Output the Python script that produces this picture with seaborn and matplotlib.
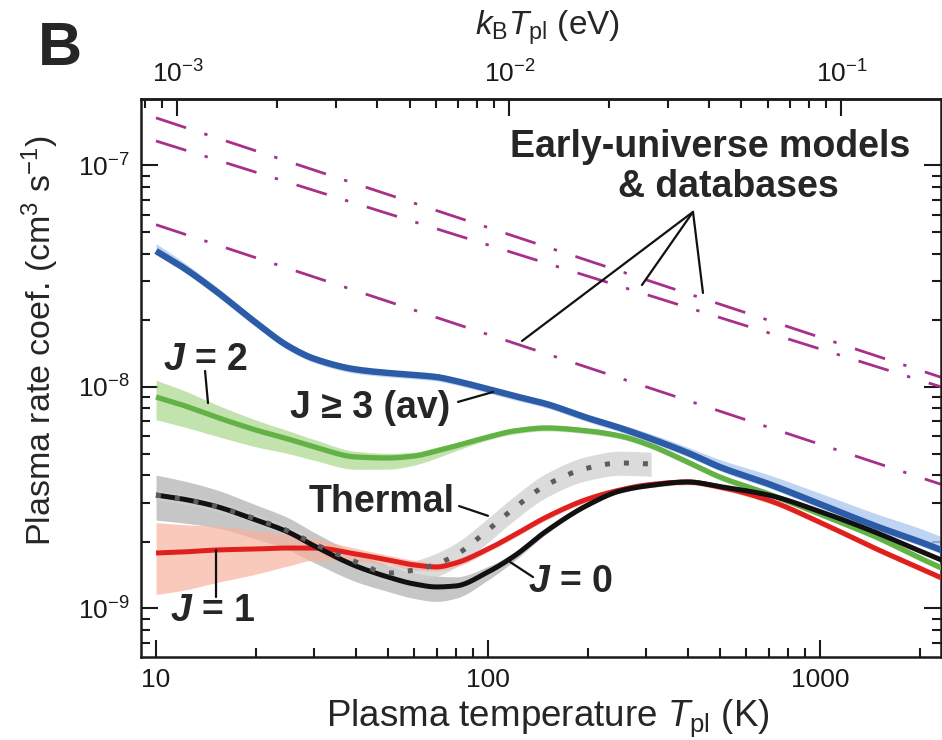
import numpy as np
import pandas as pd
import matplotlib
matplotlib.use("Agg")
import matplotlib.pyplot as plt
from matplotlib.ticker import NullFormatter
import seaborn as sns

# ---------------- data ----------------
T = [10, 12, 15, 20, 25, 30, 40, 50, 60, 70, 80, 100, 120, 150, 200, 250, 300,
     400, 500, 700, 1000, 1500, 2000, 2400]

rate_j3 = [4.11e-8, 3.48e-8, 2.74e-8, 1.95e-8, 1.53e-8, 1.34e-8, 1.20e-8, 1.157e-8,
           1.133e-8, 1.109e-8, 1.064e-8, 9.79e-9, 9.11e-9, 8.38e-9, 7.24e-9, 6.53e-9,
           5.94e-9, 5.04e-9, 4.35e-9, 3.65e-9, 2.96e-9, 2.33e-9, 2.00e-9, 1.80e-9]
j3_hi = [1.08, 1.06, 1.05, 1.04, 1.03, 1.03, 1.03, 1.03, 1.03, 1.03, 1.03, 1.03,
         1.03, 1.03, 1.03, 1.04, 1.05, 1.06, 1.08, 1.10, 1.12, 1.14, 1.15, 1.15]
j3_lo = [0.96] * 24

rate_j2 = [9.01e-9, 8.29e-9, 7.36e-9, 6.39e-9, 5.82e-9, 5.36e-9, 4.83e-9, 4.78e-9,
           4.88e-9, 5.14e-9, 5.42e-9, 5.94e-9, 6.33e-9, 6.53e-9, 6.33e-9, 6.01e-9,
           5.53e-9, 4.58e-9, 3.92e-9, 3.29e-9, 2.67e-9, 2.08e-9, 1.69e-9, 1.49e-9]
j2_hi = [1.19, 1.17, 1.14, 1.11, 1.09, 1.08, 1.06, 1.05, 1.04, 1.04, 1.03, 1.03,
         1.03, 1.03, 1.03, 1.03, 1.03, 1.03, 1.03, 1.03, 1.03, 1.03, 1.03, 1.03]
j2_lo = [0.79, 0.80, 0.82, 0.84, 0.86, 0.87, 0.88, 0.89, 0.91, 0.93, 0.95, 0.97,
         0.97, 0.97, 0.97, 0.97, 0.97, 0.97, 0.97, 0.97, 0.97, 0.97, 0.97, 0.97]

rate_j1 = [1.780e-9, 1.799e-9, 1.836e-9, 1.856e-9, 1.875e-9, 1.875e-9, 1.762e-9,
           1.656e-9, 1.572e-9, 1.540e-9, 1.605e-9, 1.856e-9, 2.147e-9, 2.588e-9,
           3.122e-9, 3.428e-9, 3.609e-9, 3.725e-9, 3.535e-9, 3.08e-9, 2.45e-9,
           1.84e-9, 1.52e-9, 1.345e-9]
j1_hi = [1.37, 1.33, 1.28, 1.21, 1.15, 1.10, 1.06, 1.05, 1.05, 1.04, 1.04, 1.03,
         1.03, 1.03, 1.03, 1.03, 1.03, 1.03, 1.03, 1.03, 1.03, 1.03, 1.03, 1.03]
j1_lo = [0.65, 0.67, 0.71, 0.77, 0.83, 0.88, 0.93, 0.95, 0.95, 0.96, 0.96, 0.97,
         0.97, 0.97, 0.97, 0.97, 0.97, 0.97, 0.97, 0.97, 0.97, 0.97, 0.97, 0.97]

rate_j0 = [3.254e-9, 3.122e-9, 2.903e-9, 2.509e-9, 2.214e-9, 1.915e-9, 1.555e-9,
           1.387e-9, 1.290e-9, 1.251e-9, 1.264e-9, 1.462e-9, 1.726e-9, 2.238e-9,
           2.934e-9, 3.393e-9, 3.573e-9, 3.725e-9, 3.55e-9, 3.25e-9, 2.74e-9,
           2.18e-9, 1.818e-9, 1.622e-9]
j0_hi = [1.23, 1.21, 1.19, 1.17, 1.16, 1.15, 1.14, 1.13, 1.12, 1.12, 1.10, 1.06,
         1.04, 1.03, 1.02, 1.02, 1.02, 1.02, 1.02, 1.02, 1.02, 1.02, 1.02, 1.02]
j0_lo = [0.77, 0.78, 0.80, 0.82, 0.83, 0.84, 0.85, 0.86, 0.86, 0.86, 0.88, 0.92,
         0.95, 0.97, 0.98, 0.98, 0.98, 0.98, 0.98, 0.98, 0.98, 0.98, 0.98, 0.98]

T_thermal = [10, 12, 15, 20, 25, 30, 40, 50, 60, 70, 80, 100, 120, 150, 200, 250, 310]
rate_thermal = [3.254e-9, 3.122e-9, 2.903e-9, 2.535e-9, 2.238e-9, 1.955e-9, 1.622e-9,
                1.446e-9, 1.492e-9, 1.588e-9, 1.744e-9, 2.261e-9, 2.842e-9, 3.609e-9,
                4.308e-9, 4.538e-9, 4.491e-9]
th_hi = [1.05, 1.05, 1.05, 1.05, 1.05, 1.05, 1.06, 1.08, 1.10, 1.12, 1.13, 1.13,
         1.13, 1.13, 1.13, 1.13, 1.13]
th_lo = [0.95, 0.95, 0.95, 0.95, 0.95, 0.95, 0.94, 0.92, 0.90, 0.88, 0.88, 0.88,
         0.88, 0.88, 0.88, 0.88, 0.88]

T_models = [10, 2500]
model_a = [1.64e-7, 1.065e-8]
model_b = [1.29e-7, 9.66e-9]
model_c = [5.40e-8, 3.50e-9]

KB_EV = 8.617333e-5  # eV / K


# ---------- smooth drawing of the read points (monotone cubic in log-log) ----------
def pchip(x, y, xn):
    x = np.asarray(x, float); y = np.asarray(y, float)
    h = np.diff(x); d = np.diff(y) / h
    m = np.zeros_like(y)
    m[0], m[-1] = d[0], d[-1]
    for k in range(1, len(x) - 1):
        if d[k - 1] * d[k] > 0:
            w1 = 2 * h[k] + h[k - 1]; w2 = h[k] + 2 * h[k - 1]
            m[k] = (w1 + w2) / (w1 / d[k - 1] + w2 / d[k])
    i = np.clip(np.searchsorted(x, xn) - 1, 0, len(x) - 2)
    t = (xn - x[i]) / h[i]
    h00 = 2 * t**3 - 3 * t**2 + 1; h10 = t**3 - 2 * t**2 + t
    h01 = -2 * t**3 + 3 * t**2; h11 = t**3 - t**2
    return h00 * y[i] + h10 * h[i] * m[i] + h01 * y[i + 1] + h11 * h[i] * m[i + 1]


def smooth(xs, ys, n=400):
    lx = np.log10(xs)
    grid = np.linspace(lx[0], lx[-1], n)
    return 10 ** grid, 10 ** pchip(lx, np.log10(ys), grid)


# ---------------- style ----------------
sns.set_theme(style="ticks")
plt.rcParams["font.family"] = ["Liberation Sans", "DejaVu Sans"]
plt.rcParams["mathtext.fontset"] = "custom"
plt.rcParams["mathtext.rm"] = "Liberation Sans"
plt.rcParams["mathtext.it"] = "Liberation Sans:italic"
plt.rcParams["mathtext.bf"] = "Liberation Sans:bold"
plt.rcParams["mathtext.bfit"] = "Liberation Sans:italic:bold"
plt.rcParams["lines.solid_capstyle"] = "butt"
plt.rcParams["xtick.direction"] = "in"
plt.rcParams["ytick.direction"] = "in"

fig = plt.figure(figsize=(9.42, 7.40), dpi=100)
ax = fig.add_axes([141 / 942, 1 - 657 / 740, 800 / 942, 558 / 740])
ax.set_xscale("log")
ax.set_yscale("log")
ax.set_xlim(9.01, 2315)
ax.set_ylim(6.04e-10, 1.995e-7)


def band(x, y, hi, lo, color, alpha, z):
    y = np.asarray(y)
    xs, ylo = smooth(x, y * np.asarray(lo))
    _, yhi = smooth(x, y * np.asarray(hi))
    ax.fill_between(xs, ylo, yhi, color=color, alpha=alpha, lw=0, zorder=z)


def curve(x, y, **kw):
    xs, ys = smooth(x, y)
    sns.lineplot(x=xs, y=ys, ax=ax, sort=False, estimator=None, **kw)


band(T, rate_j0, j0_hi, j0_lo, "#b4b4b4", 0.75, 1)
band(T_thermal, rate_thermal, th_hi, th_lo, "#cfcfcf", 0.75, 1)
band(T, rate_j1, j1_hi, j1_lo, "#f7b29e", 0.7, 1.1)
band(T, rate_j2, j2_hi, j2_lo, "#a9d88c", 0.7, 1.2)
band(T, rate_j3, j3_hi, j3_lo, "#b0c8ef", 0.8, 1.3)

mcol = "#a8308a"
dd = (0, (11.4, 6.9, 1.2, 7.0))
for vals in (model_a, model_b, model_c):
    sns.lineplot(x=T_models, y=vals, ax=ax, color=mcol, linewidth=2.0,
                 linestyle=dd, sort=False, estimator=None, zorder=2)

curve(T, rate_j2, color="#62b246", linewidth=3.8, zorder=3)
curve(T, rate_j3, color="#2c5ca8", linewidth=4.6, zorder=3.5)
curve(T, rate_j1, color="#e0201e", linewidth=3.6, zorder=4)
curve(T, rate_j0, color="#111111", linewidth=3.6, zorder=5)
curve(T_thermal, rate_thermal, color="#5c5c5c", linewidth=3.6,
      linestyle=(0, (1, 2.8)), dash_capstyle="butt", zorder=6)

# ---------------- axes cosmetics ----------------
for s in ax.spines.values():
    s.set_linewidth(1.8)
    s.set_color("#1a1a1a")
ax.tick_params(which="both", top=False, right=True, colors="#1a1a1a", width=1.5)
ax.tick_params(which="major", length=12, labelsize=19, pad=8)
ax.tick_params(which="minor", length=6.5)
ax.yaxis.set_minor_formatter(NullFormatter())
ax.xaxis.set_minor_formatter(NullFormatter())
ax.set_xticks([10, 100, 1000])
ax.set_xticklabels(["10", "100", "1000"])

sec = ax.secondary_xaxis("top", functions=(lambda t: t * KB_EV, lambda e: e / KB_EV))
sec.tick_params(which="both", direction="in", width=1.5, colors="#1a1a1a")
sec.tick_params(which="major", length=12, labelsize=19, pad=8)
sec.tick_params(which="minor", length=6.5)
sec.xaxis.set_minor_formatter(NullFormatter())
sec.spines["top"].set_linewidth(1.8)

ax.set_xlabel(r"Plasma temperature $T_{\rm pl}$ (K)", fontsize=26.5)
ax.xaxis.set_label_coords(0.509, -0.072)
ax.set_ylabel(r"Plasma rate coef. (cm$^3$ s$^{-1}$)", fontsize=24.5)
ax.yaxis.set_label_coords(-0.10, 0.568)

fig.text(547 / 942, 1 - 28 / 740, r"$k_{\rm B}T_{\rm pl}$ (eV)", fontsize=24,
         ha="center", va="center")
fig.text(38 / 942, 1 - 65 / 740, "B", fontsize=44, fontweight="bold", va="baseline")

# ---------------- annotations ----------------
fs = 27
ax.text(14.05, 1.324e-8, r"$\mathbfit{J}$ = 2", fontsize=fs, fontweight="bold",
        ha="center", va="center", zorder=10)
ax.text(44.1, 8.04e-9, "J ≥ 3 (av)", fontsize=fs, fontweight="bold",
        ha="center", va="center", zorder=10)
ax.text(47.9, 3.03e-9, "Thermal", fontsize=fs, fontweight="bold",
        ha="center", va="center", zorder=10)
ax.text(176.6, 1.317e-9, r"$\mathbfit{J}$ = 0", fontsize=fs, fontweight="bold",
        ha="center", va="center", zorder=10)
ax.text(14.85, 9.74e-10, r"$\mathbfit{J}$ = 1", fontsize=fs, fontweight="bold",
        ha="center", va="center", zorder=10)
ax.text(466.4, 1.092e-7, "Early-universe models", fontsize=fs, fontweight="bold",
        ha="center", va="baseline", zorder=10)
ax.text(528.3, 7.21e-8, "& databases", fontsize=fs, fontweight="bold",
        ha="center", va="baseline", zorder=10)

lead = dict(arrowstyle="-", lw=1.6, color="#111111", shrinkA=0, shrinkB=0)
for (x0, y0), (x1, y1) in [((14.05, 1.181e-8), (14.34, 8.46e-9)),
                           ((81.2, 8.56e-9), (103.5, 9.49e-9)),
                           ((81.8, 2.90e-9), (100.0, 2.62e-9)),
                           ((116.5, 1.622e-9), (136.6, 1.387e-9)),
                           ((15.16, 1.836e-9), (15.16, 1.127e-9)),
                           ((414.5, 6.17e-8), (126.6, 1.613e-8)),
                           ((414.5, 6.17e-8), (290.9, 2.886e-8)),
                           ((414.5, 6.17e-8), (444.2, 2.657e-8))]:
    ax.annotate("", xy=(x1, y1), xytext=(x0, y0), arrowprops=lead, zorder=9)

fig.savefig("out.png", dpi=100, facecolor="white")
